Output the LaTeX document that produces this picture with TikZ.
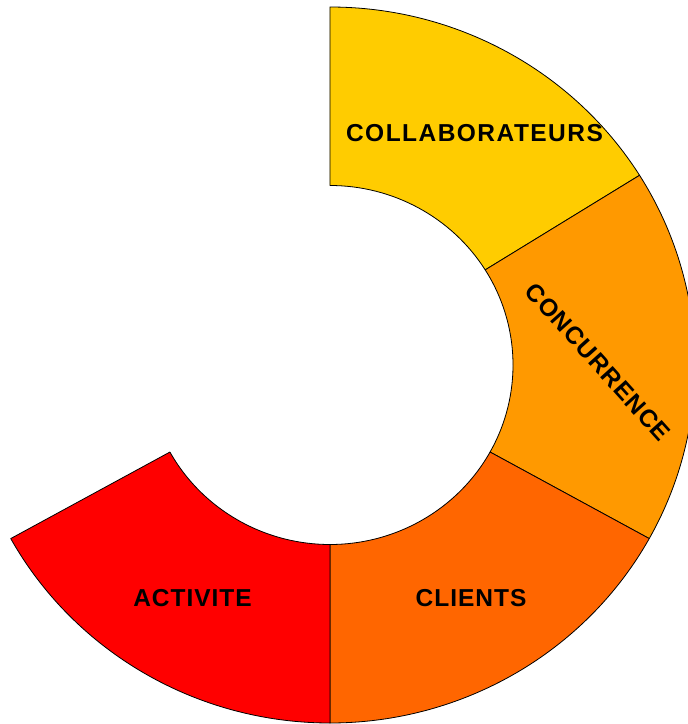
\documentclass[tikz,border=0pt]{standalone}
\usepackage{fontspec}
\setmainfont{Liberation Sans}[LetterSpace=4]
\newfontfamily\widefam{Liberation Sans}[LetterSpace=6]
\begin{document}
\begin{tikzpicture}[x=1pt,y=1pt,
  seg/.style={draw=black,line width=0.8pt,line join=round},
  lbl/.style={font=\fontsize{24.5}{28}\selectfont\bfseries,text=black,inner sep=0pt}]
\definecolor{cCol}{HTML}{FFCC00}
\definecolor{cConc}{HTML}{FF9900}
\definecolor{cCli}{HTML}{FF6600}
\definecolor{cAct}{HTML}{FF0000}
\useasboundingbox (-330,-359) rectangle (358,365);
\clip (-330,-359) rectangle (358,365);
\def\Ro{358}
\def\Ri{179.5}
\def\aA{32}\def\aB{-29}\def\aC{-151}
\begin{scope}[xscale=1.0196]
\draw[seg,fill=cCol] (90:\Ri) -- (90:\Ro) arc[start angle=90,end angle=\aA,radius=\Ro] -- (\aA:\Ri) arc[start angle=\aA,end angle=90,radius=\Ri] -- cycle;
\draw[seg,fill=cConc] (\aA:\Ri) -- (\aA:\Ro) arc[start angle=\aA,end angle=\aB,radius=\Ro] -- (\aB:\Ri) arc[start angle=\aB,end angle=\aA,radius=\Ri] -- cycle;
\draw[seg,fill=cCli] (\aB:\Ri) -- (\aB:\Ro) arc[start angle=\aB,end angle=-90,radius=\Ro] -- (-90:\Ri) arc[start angle=-90,end angle=\aB,radius=\Ri] -- cycle;
\draw[seg,fill=cAct] (-90:\Ri) -- (-90:\Ro) arc[start angle=-90,end angle=\aC,radius=\Ro] -- (\aC:\Ri) arc[start angle=\aC,end angle=-90,radius=\Ri] -- cycle;
\end{scope}
\node[lbl,font=\fontsize{24.5}{28}\selectfont\widefam\bfseries] (collab) at (144.5,232) {COLLABORATEURS};
\node[lbl,rotate=-48] (conc) at (268,3) {CONCURRENCE};
\node[lbl] (cli) at (141,-233) {CLIENTS};
\node[lbl] (act) at (-137.5,-233) {ACTIVITE};
\end{tikzpicture}
\end{document}
